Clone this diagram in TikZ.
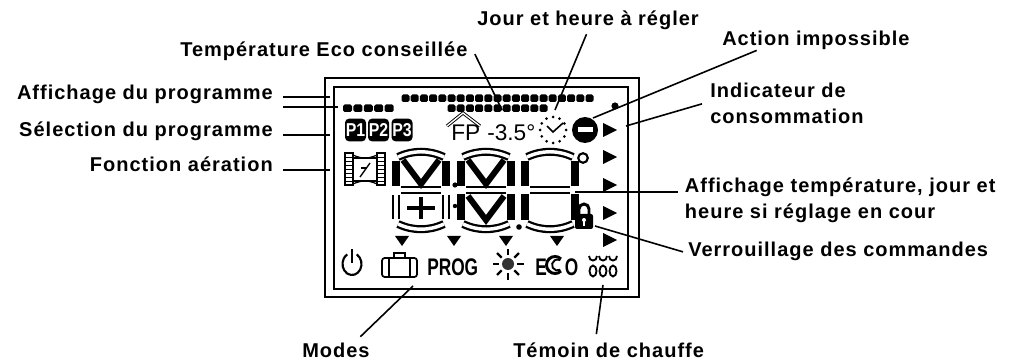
\documentclass[tikz,border=0pt]{standalone}
\usepackage{fontspec}
\setmainfont{Liberation Sans}
\newfontfamily\labelfont[LetterSpace=5]{Liberation Sans}
\usepackage{tikz}

\tikzset{
  lbl/.style={font=\labelfont\bfseries\fontsize{15}{19.5}\selectfont, inner sep=0pt},
  leader/.style={line width=1.2pt},
  segoff/.style={line width=1.7pt, double=white, double distance=2.6pt},
  segon/.style={line width=6pt},
  pbox/.style={fill=black, rounded corners=3pt, text=white, font=\bfseries\fontsize{14}{14}\selectfont, minimum width=15.75pt, minimum height=17pt, inner sep=0pt},
  lcdtxt/.style={font=\fontsize{17}{17}\selectfont, inner sep=0pt},
  lcdbold/.style={font=\bfseries\fontsize{18}{18}\selectfont, inner sep=0pt},
}

\begin{document}
\begin{tikzpicture}[x=0.75pt,y=0.75pt,yscale=-1,xscale=1]
\useasboundingbox (0,0) rectangle (1009,363);

%Shape: Rectangle (outer frame)
\draw [line width=1.1pt] (325,78) rectangle (639,297);
%Shape: Rectangle (inner frame)
\draw [line width=1.5pt] (334,87) rectangle (628,289);

%Shape: program bars
\foreach \i in {0,...,20} \fill [rounded corners=1.2pt] (401.5+\i*9.2,94.5) rectangle ++(8,7.5);
\foreach \i in {0,...,4} \fill [rounded corners=1.2pt] (343+\i*10.4,104.5) rectangle ++(9,7.5);
\foreach \i in {0,...,10} \fill [rounded corners=1.2pt] (447.5+\i*9.2,104.5) rectangle ++(8,7.5);
\fill (615,106) circle (3.6);

% Text Node
\node [pbox] (p1) at (355.5,130) {\scalebox{0.85}[1]{P1}};
\node [pbox] (p2) at (378.5,130) {\scalebox{0.85}[1]{P2}};
\node [pbox] (p3) at (402,130) {\scalebox{0.85}[1]{P3}};

%Straight Lines (house roof)
\draw [line width=0.7pt, double=white, double distance=1pt] (447,126) -- (463,113) -- (480,126);
% Text Node
\node [lcdtxt, anchor=base west] (fp) at (451,141) {FP};
% Text Node
\node [lcdtxt, anchor=base west] (ecoval) at (487,141) {-3.5°};

%Shape: clock
\foreach \a in {0,30,...,330} \fill (553,130) ++(\a:13) circle (1.5);
\draw [line width=1.2pt] (547,126) -- (553,132) -- (563,123);

%Shape: Circle (no entry)
\fill (585,130) circle (13);
\fill [white] (577.5,127.5) rectangle (592.5,132.5);

%Shape: Triangles
\foreach \y in {130,157,185,213,240} \fill (603,\y-7) -- (617,\y) -- (603,\y+7) -- cycle;
\foreach \x in {402,454,506,557} \fill (\x-7,236) -- (\x+7,236) -- (\x,246) -- cycle;

%Shape: aeration window
\draw [line width=0.9pt] (345,153) rectangle (353,185);
\draw [line width=0.9pt] (377,153) rectangle (385,185);
\foreach \y in {157,161,...,181} {
  \draw (345,\y) -- (353,\y);
  \draw (377,\y) -- (385,\y);
}
\draw [line width=0.9pt] (353,158) rectangle (377,181);
\draw [line width=0.9pt] (353,155) .. controls (362,159) and (368,159) .. (377,155);
\draw [line width=0.9pt] (353,184) .. controls (362,180) and (368,180) .. (377,184);
\draw [line width=1pt] (360,177) -- (370,163);
\draw [line width=1pt] (361,168) -- (367,168);

%Shape: digits
\foreach \L in {393,458,522} {
  \draw [segoff] (\L+5,157) .. controls (\L+20,150) and (\L+36,150) .. (\L+51,157);
  \draw [segoff] (\L+8,190) -- (\L+48,190);
  \draw [segoff] (\L+5,224) .. controls (\L+20,231) and (\L+36,231) .. (\L+51,224);
  \draw [segon] (\L+3,161) -- (\L+3,186);
  \draw [segon] (\L+53,161) -- (\L+53,186);
}
\draw [segoff] (396,195) -- (396,219);
\draw [segoff] (446,195) -- (446,219);
\foreach \L in {458,522} {
  \draw [segon] (\L+3,194) -- (\L+3,220);
  \draw [segon] (\L+53,194) -- (\L+53,220);
}
\foreach \L in {393,458} \draw [segon, line width=4.5pt] (\L+10,160) -- (\L+28,184) -- (\L+46,160);
\draw [segon, line width=4.5pt] (468,196) -- (486,220) -- (504,196);
\draw [line width=3pt] (421,197) -- (421,219);
\draw [line width=3pt] (407,208) -- (435,208);
\fill (455,185) circle (2.6);
\fill (455,206) circle (2.2);
\fill (519,227) circle (2.8);
\draw [line width=1.6pt] (583,158) circle (4.8);

%Shape: lock
\draw [line width=2.2pt] (579,215) -- (579,209) arc (180:360:5) -- (589,215);
\fill [rounded corners=1.5pt] (575,214) rectangle (593,229);
\fill [white] (584,220) circle (2);
\fill [white] (583.2,220) rectangle (584.8,226);

%Shape: power
\draw [line width=1.6pt] (352,264) ++(-60:9.5 and 11) arc [start angle=-60, end angle=240, x radius=9.5, y radius=11];
\draw [line width=1.6pt] (352,249) -- (352,263);

%Shape: suitcase
\draw [line width=1.3pt, rounded corners=2pt] (382,258) rectangle (417,277);
\draw [line width=1.1pt] (389,258) -- (389,277);
\draw [line width=1.1pt] (410,258) -- (410,277);
\draw [line width=1.3pt] (394,258) -- (394,253) -- (405,253) -- (405,258);

% Text Node
\node [lcdbold, anchor=base west] (prog) at (427,275) {\scalebox{0.72}[1]{PROG}};

%Shape: sun
\fill [black!80] (508,264) circle (6);
\foreach \a in {0,45,...,315} \draw [line width=1.7pt] (508,264) ++(\a:9) -- ++(\a:6.5);

% Text Node
\node [lcdbold, anchor=base west] (ecoe) at (535,275) {\scalebox{0.72}[1]{E}};
\draw [line width=2.2pt] (555,265) ++(45:8.5) arc (45:315:8.5);
\draw [line width=1.4pt] (557.5,265) ++(60:5.5) arc (60:300:5.5);
\node [lcdbold, anchor=base west] (ecoo) at (564.5,275) {\scalebox{0.72}[1]{O}};

%Shape: heating
\foreach \x in {593,603,613} {
  \draw [line width=1.4pt] (\x,271) ellipse (3.5 and 5.5);
  \draw [line width=1.4pt] (\x-4,256) .. controls (\x-4,262) and (\x+4,262) .. (\x+4,256);
}

% Text Node
\node [lbl, anchor=base west] (jour) at (477,26) {Jour et heure à régler};
% Text Node
\node [lbl, anchor=base west, inner xsep=4.5pt] (tempeco) at (174,57) {Température Eco conseillée};
% Text Node
\node [lbl, anchor=base west] (action) at (722,46) {Action impossible};
% Text Node
\node [lbl, anchor=base west, align=left, inner xsep=6pt] (indic) at (702,124) {Indicateur de\\consommation};
% Text Node
\node [lbl, anchor=base east, inner xsep=7.5pt] (affprog) at (283,100) {Affichage du programme};
% Text Node
\node [lbl, anchor=base east, inner xsep=7.5pt] (selprog) at (283,137) {Sélection du programme};
% Text Node
\node [lbl, anchor=base east, inner xsep=7.5pt] (aeration) at (283,172) {Fonction aération};
% Text Node
\node [lbl, anchor=base west, align=left, inner xsep=5pt] (afftemp) at (678,219) {Affichage température, jour et\\heure si réglage en cour};
% Text Node
\node [lbl, anchor=base west, inner xsep=3.75pt] (verrou) at (683,257) {Verrouillage des commandes};
% Text Node
\node [lbl, anchor=base west] (modes) at (302,357) {Modes};
% Text Node
\node [lbl, anchor=base west] (temoin) at (513,357) {Témoin de chauffe};

\coordinate (affprogA) at (330,97);
\coordinate (affprogB) at (338,107);
\coordinate (selprogA) at (330,135);
\coordinate (aerationA) at (330,170);
\coordinate (tempecoA) at (502,110);
\coordinate (jourA) at (555,110);
\coordinate (actionA) at (593,118);
\coordinate (indicA) at (626,126);
\coordinate (afftempA) at (575,192);
\coordinate (verrouA) at (595,226);
\coordinate (modesA) at (413,286);
\coordinate (temoinA) at (603,285);

%Straight Lines
\draw [leader] (affprogA -| affprog.east) -- (affprogA);
\draw [leader] (affprogB -| affprog.east) -- (affprogB);
\draw [leader] (selprogA -| selprog.east) -- (selprogA);
\draw [leader] (aerationA -| aeration.east) -- (aerationA);
\draw [leader, shorten <=2pt] (tempeco.east) -- (tempecoA);
\draw [leader, shorten <=3pt] (jour.south) -- (jourA);
\draw [leader] ([xshift=26pt]action.south west) -- (actionA);
\draw [leader] (indic.west) -- (indicA);
\draw [leader] (afftempA -| afftemp.west) -- (afftempA);
\draw [leader] (verrou.west) -- (verrouA);
\draw [leader, shorten <=6pt] ([xshift=14pt]modes.north) -- (modesA);
\draw [leader, shorten <=6pt] ([xshift=-10pt]temoin.north) -- (temoinA);

\end{tikzpicture}
\end{document}
